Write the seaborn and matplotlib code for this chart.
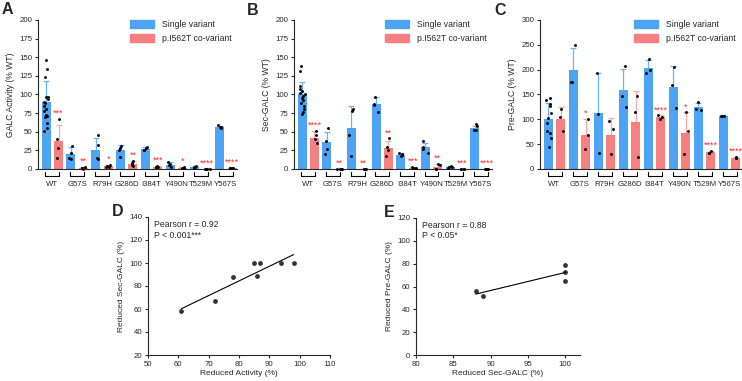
"""GALC variants: activity, secretion and precursor levels (panels A-E)."""
import matplotlib
matplotlib.use("Agg")
import matplotlib.pyplot as plt
import matplotlib.transforms as mtransforms
from matplotlib.patches import Patch
import numpy as np
import pandas as pd
import seaborn as sns

sns.set_theme(style="ticks")
plt.rcParams["font.family"] = ["Liberation Sans", "DejaVu Sans"]
plt.rcParams["axes.linewidth"] = 0.8
plt.rcParams["xtick.major.width"] = 0.8
plt.rcParams["ytick.major.width"] = 0.8
plt.rcParams["xtick.major.size"] = 2.5
plt.rcParams["ytick.major.size"] = 2.5
np.random.seed(3)

BLUE = "#4DA3F5"
RED = "#F67F7F"
BLUE_ERR = "#6AB3F7"
RED_ERR = "#F8A8A8"
STAR = "#FF2A2A"

VARIANTS = ["WT", "G57S", "R79H", "G286D", "I384T", "Y490N", "T529M", "Y567S"]
GROUPS = ["Single variant", "p.I562T co-variant"]

# --- A: GALC activity (% WT)
act_single_mean = [90, 20, 26, 25, 27, 6, 3, 56]
act_single_sd = [28, 9, 16, 7, 2, 3, 1, 2]
act_co_mean = [37, 2, 4, 7, 3, 2, 0.5, 1]
act_co_sd = [22, 1, 1, 4, 1, 1, 0.3, 0.3]
act_single_pts = [
    [146, 134, 124, 97, 96, 94, 90, 88, 84, 80, 78, 72, 71, 70, 62, 55, 51],
    [31, 22, 15, 13], [46, 32, 15, 13], [31, 28, 26, 16], [29, 28, 26, 25],
    [10, 7, 5, 3], [4, 3, 3, 2], [59, 57, 56, 55],
]
act_co_pts = [
    [67, 40, 28, 15], [3, 2, 1, 0.5], [5, 4, 3, 3], [11, 8, 5, 4], [4, 3, 3, 3],
    [3, 2, 1, 1], [0.5, 0.3, 0.3, 0.2], [1, 1, 1, 1],
]
act_stars = ["***", "**", "*", "**", "***", "*", "****", "****"]

# --- B: Sec-GALC (% WT)
sec_single_mean = [100, 36, 55, 87, 19, 29, 3, 55]
sec_single_sd = [17, 13, 29, 10, 2, 6, 1, 3]
sec_co_mean = [42, 0.2, 0.2, 28, 2, 3, 0.2, 0.2]
sec_co_sd = [9, 0.1, 0.1, 9, 1, 4, 0.1, 0.1]
sec_single_pts = [
    [138, 132, 111, 108, 105, 102, 100, 98, 95, 92, 88, 85, 80, 77, 74],
    [55, 38, 27, 20], [81, 78, 45, 18], [97, 87, 86, 77], [21, 20, 19, 17],
    [37, 30, 27, 21], [4, 3, 3, 2], [60, 58, 53, 52],
]
sec_co_pts = [
    [51, 46, 40, 35], [0.3, 0.2, 0.2, 0.1], [0.3, 0.2, 0.2, 0.1], [41, 30, 25, 18],
    [3, 2, 2, 1], [7, 6, 0.5, 0.5], [0.3, 0.2, 0.2, 0.1], [0.3, 0.2, 0.2, 0.1],
]
sec_stars = ["****", "**", "**", "**", "***", "**", "***", "****"]

# --- C: Pre-GALC (% WT)
pre_single_mean = [100, 199, 112, 159, 203, 166, 124, 107]
pre_single_sd = [33, 45, 82, 43, 16, 42, 9, 1]
pre_co_mean = [101, 69, 68, 95, 104, 73, 34, 23]
pre_co_sd = [24, 31, 34, 63, 4, 41, 2, 2]
pre_single_pts = [
    [143, 138, 131, 127, 113, 103, 92, 76, 73, 62, 45],
    [250, 175, 175], [194, 111, 32], [208, 146, 124], [221, 200, 193],
    [206, 169, 123], [134, 120, 118], [107, 107, 106],
]
pre_co_pts = [
    [120, 105, 77], [101, 68, 40], [97, 80, 30], [146, 114, 25], [108, 105, 101],
    [114, 76, 30], [36, 33, 32], [24, 23, 22],
]
pre_stars = ["", "*", "", "", "****", "*", "****", "****"]

# --- D / E correlations
d_activity = [61, 72, 78, 85, 86, 87, 94, 98]
d_sec = [58, 67, 88, 100, 89, 100, 100, 100]
e_sec = [88, 89, 100, 100, 100]
e_pre = [56, 52, 79, 73, 65]


def bar_panel(ax, s_mean, s_sd, c_mean, c_sd, s_pts, c_pts, stars, ymax, ystep, ylabel):
    df = pd.DataFrame({
        "variant": VARIANTS * 2,
        "type": [GROUPS[0]] * len(VARIANTS) + [GROUPS[1]] * len(VARIANTS),
        "value": s_mean + c_mean,
    })
    sns.barplot(data=df, x="variant", y="value", hue="type", order=VARIANTS,
                hue_order=GROUPS, palette=[BLUE, RED], width=1.0, gap=0.28,
                errorbar=None, saturation=1, legend=False, linewidth=0,
                zorder=2, ax=ax)

    idx = np.arange(len(VARIANTS))
    rows = []
    for off, means, sds, pts, ecol in [(-0.25, s_mean, s_sd, s_pts, BLUE_ERR),
                                        (0.25, c_mean, c_sd, c_pts, RED_ERR)]:
        ax.errorbar(idx + off, means, yerr=sds, fmt="none", ecolor=ecol,
                    elinewidth=0.9, capsize=2.2, capthick=0.9, zorder=1)
        for i, vals in enumerate(pts):
            rows += [(i + off, v) for v in vals]
    pts_df = pd.DataFrame(rows, columns=["pos", "value"])
    n_before = len(ax.collections)
    sns.stripplot(data=pts_df, x="pos", y="value", native_scale=True, jitter=0.22,
                  color="black", size=2.1, linewidth=0, zorder=3, ax=ax)
    for coll in ax.collections[n_before:]:
        coll.set_clip_on(False)

    for i, st in enumerate(stars):
        if not st:
            continue
        top = max(c_mean[i] + c_sd[i], max(c_pts[i]))
        ax.annotate(st, xy=(i + 0.25, top), xytext=(0, 0.8), textcoords="offset points",
                    ha="center", va="bottom", color=STAR, fontsize=6.5)

    trans = mtransforms.blended_transform_factory(ax.transData, ax.transAxes)
    for i in idx:
        ax.plot([i - 0.28, i - 0.28, i + 0.28, i + 0.28], [-0.018, -0.05, -0.05, -0.018],
                transform=trans, color="black", lw=0.8, clip_on=False)

    ax.set_xlim(-0.58, 7.45)
    ax.set_xticks(idx)
    ax.set_xticklabels(VARIANTS)
    ax.tick_params(axis="x", length=0, pad=9, labelsize=5.6)
    ax.set_ylim(0, ymax)
    ax.set_yticks(np.arange(0, ymax + 1, ystep))
    ax.tick_params(axis="y", labelsize=5.7, pad=1.5)
    ax.set_xlabel("")
    ax.set_ylabel(ylabel, fontsize=6.2, labelpad=3)
    ax.legend(handles=[Patch(color=BLUE, label=GROUPS[0]), Patch(color=RED, label=GROUPS[1])],
              loc="upper right", bbox_to_anchor=(1.0, 1.035), frameon=False, fontsize=6.2,
              handlelength=2.8, handleheight=1.0, handletextpad=0.9, labelspacing=0.55,
              borderaxespad=0.2)
    sns.despine(ax=ax)


def corr_panel(ax, x, y, xlim, xticks, ylim, yticks, xlabel, ylabel, note):
    sns.regplot(x=x, y=y, ci=None, color="black", ax=ax,
                scatter_kws=dict(s=12, linewidths=0), line_kws=dict(lw=0.8))
    ax.set_xlim(*xlim)
    ax.set_ylim(*ylim)
    ax.set_xticks(xticks)
    ax.set_yticks(yticks)
    ax.tick_params(labelsize=5.6, pad=1.5)
    ax.set_xlabel(xlabel, fontsize=6.0, labelpad=2)
    ax.set_ylabel(ylabel, fontsize=6.0, labelpad=3)
    ax.text(0.035, 0.975, note, transform=ax.transAxes, ha="left", va="top",
            fontsize=6.2, linespacing=1.15)
    sns.despine(ax=ax)


W, H = 742, 381
fig = plt.figure(figsize=(W / 100, H / 100), dpi=100)


def box(x0, y0, x1, y1):
    return [x0 / W, 1 - y1 / H, (x1 - x0) / W, (y1 - y0) / H]


ax_a = fig.add_axes(box(38, 20, 237, 169))
ax_b = fig.add_axes(box(294, 20, 492, 169))
ax_c = fig.add_axes(box(540, 20, 741, 169))
ax_d = fig.add_axes(box(148, 217, 330, 355))
ax_e = fig.add_axes(box(416, 218, 580, 355))

bar_panel(ax_a, act_single_mean, act_single_sd, act_co_mean, act_co_sd,
          act_single_pts, act_co_pts, act_stars, 200, 25, "GALC Activity (% WT)")
bar_panel(ax_b, sec_single_mean, sec_single_sd, sec_co_mean, sec_co_sd,
          sec_single_pts, sec_co_pts, sec_stars, 200, 25, "Sec-GALC (% WT)")
bar_panel(ax_c, pre_single_mean, pre_single_sd, pre_co_mean, pre_co_sd,
          pre_single_pts, pre_co_pts, pre_stars, 300, 50, "Pre-GALC (% WT)")

corr_panel(ax_d, d_activity, d_sec, (50, 110), np.arange(50, 111, 10), (20, 140),
           np.arange(20, 141, 20), "Reduced Activity (%)", "Reduced Sec-GALC (%)",
           "Pearson r = 0.92\nP < 0.001***")
corr_panel(ax_e, e_sec, e_pre, (80, 102), np.arange(80, 101, 5), (0, 120),
           np.arange(0, 121, 20), "Reduced Sec-GALC (%)", "Reduced Pre-GALC (%)",
           "Pearson r = 0.88\nP < 0.05*")

for letter, x, y in [("A", 2, 14), ("B", 247, 15), ("C", 494, 15), ("D", 112, 216), ("E", 384, 217)]:
    fig.text(x / W, 1 - y / H, letter, fontsize=11.5, fontweight="bold", ha="left", va="baseline")

fig.savefig("out.png", dpi=100)
plt.close(fig)
